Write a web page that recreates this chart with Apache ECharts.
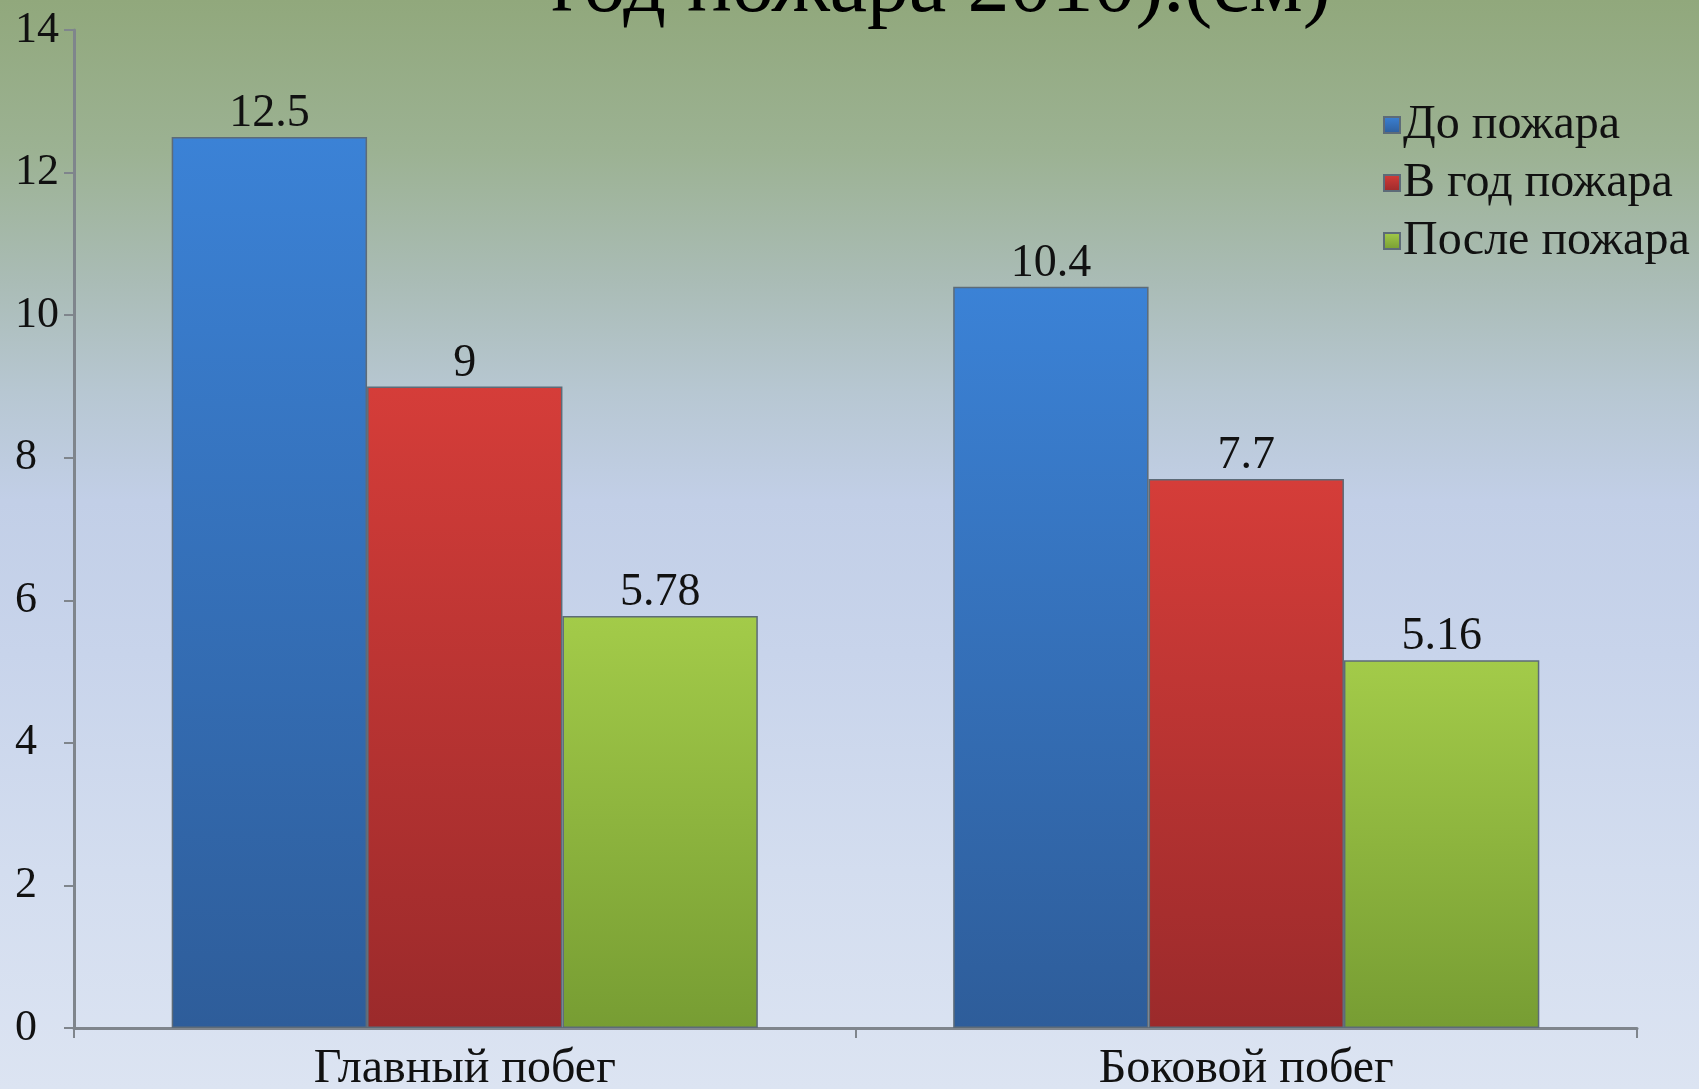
<!DOCTYPE html>
<html>
<head>
<meta charset="utf-8">
<script src="https://cdn.jsdelivr.net/npm/echarts@6/dist/echarts.min.js"></script>
<style>
  html, body { margin: 0; padding: 0; }
  body {
    width: 1699px; height: 1089px; overflow: hidden;
    background: linear-gradient(to bottom,
      #91a87c 0%, #9cb293 14%, #aabcb6 26%, #b7c7d2 36%,
      #c2cfe7 46%, #c8d4eb 60%, #d3ddef 80%, #dce4f2 100%);
  }
  #chart { width: 1699px; height: 1089px; }
</style>
</head>
<body>
<div id="chart"></div>
<script>
// Shoot length by shoot type, before / during / after the 2010 fire (cm)
const categories = ['Главный побег', 'Боковой побег'];
const seriesNames = ['До пожара', 'В год пожара', 'После пожара'];
const beforeFire = [12.5, 10.4];
const fireYear = [9, 7.7];
const afterFire = [5.78, 5.16];
const yMin = 0, yMax = 14, yStep = 2;
const titleText = 'год пожара 2010).(см)';

const serif = '"Liberation Serif", "Times New Roman", serif';

function vGrad(top, bottom) {
  return new echarts.graphic.LinearGradient(0, 0, 0, 1, [
    { offset: 0, color: top },
    { offset: 1, color: bottom }
  ]);
}

const palette = [
  { top: '#3b82d6', bottom: '#2e5d9a', legend: '#4a7fc8' },
  { top: '#d53d39', bottom: '#9b2a2b', legend: '#d0353a' },
  { top: '#a3cb49', bottom: '#779d33', legend: '#a3c84c' }
];

function barSeries(name, values, idx) {
  return {
    name: name,
    type: 'bar',
    data: values,
    barGap: '0%',
    barCategoryGap: '25%',
    itemStyle: {
      color: vGrad(palette[idx].top, palette[idx].bottom),
      borderColor: '#5d6b78',
      borderWidth: 1.5
    },
    label: {
      show: true,
      position: 'top',
      distance: 0,
      color: '#111',
      fontFamily: serif,
      fontSize: 46
    }
  };
}

const chart = echarts.init(document.getElementById('chart'), null, { renderer: 'canvas' });

chart.setOption({
  backgroundColor: 'transparent',
  animation: false,
  color: palette.map(p => p.legend),
  graphic: [{
    type: 'text',
    x: 941,
    y: 31,
    style: {
      text: titleText,
      font: '84px ' + serif,
      fill: '#000',
      align: 'center',
      verticalAlign: 'bottom'
    }
  }],
  legend: {
    orient: 'vertical',
    left: 1383,
    top: 101,
    padding: 0,
    itemWidth: 16,
    itemHeight: 16,
    itemGap: 10,
    icon: 'rect',
    textStyle: {
      fontFamily: serif,
      fontSize: 48,
      color: '#111',
      padding: [0, 0, 0, -2]
    },
    data: seriesNames
  },
  grid: { left: 74, right: 62, top: 30, bottom: 61, containLabel: false, outerBoundsMode: 'none' },
  xAxis: {
    type: 'category',
    data: categories,
    axisLine: { lineStyle: { color: '#7f858c', width: 3 } },
    axisTick: { show: true, length: 10, lineStyle: { color: '#7f858c', width: 2 } },
    axisLabel: {
      color: '#111',
      fontFamily: serif,
      fontSize: 48,
      margin: 17
    }
  },
  yAxis: {
    type: 'value',
    min: yMin,
    max: yMax,
    interval: yStep,
    splitLine: { show: false },
    axisLine: { show: true, lineStyle: { color: '#7f858c', width: 3 } },
    axisTick: { show: true, length: 10, lineStyle: { color: '#7f858c', width: 2 } },
    axisLabel: {
      color: '#111',
      fontFamily: serif,
      fontSize: 44,
      align: 'left',
      margin: 59
    }
  },
  series: [
    barSeries(seriesNames[0], beforeFire, 0),
    barSeries(seriesNames[1], fireYear, 1),
    barSeries(seriesNames[2], afterFire, 2)
  ]
});
</script>
</body>
</html>
